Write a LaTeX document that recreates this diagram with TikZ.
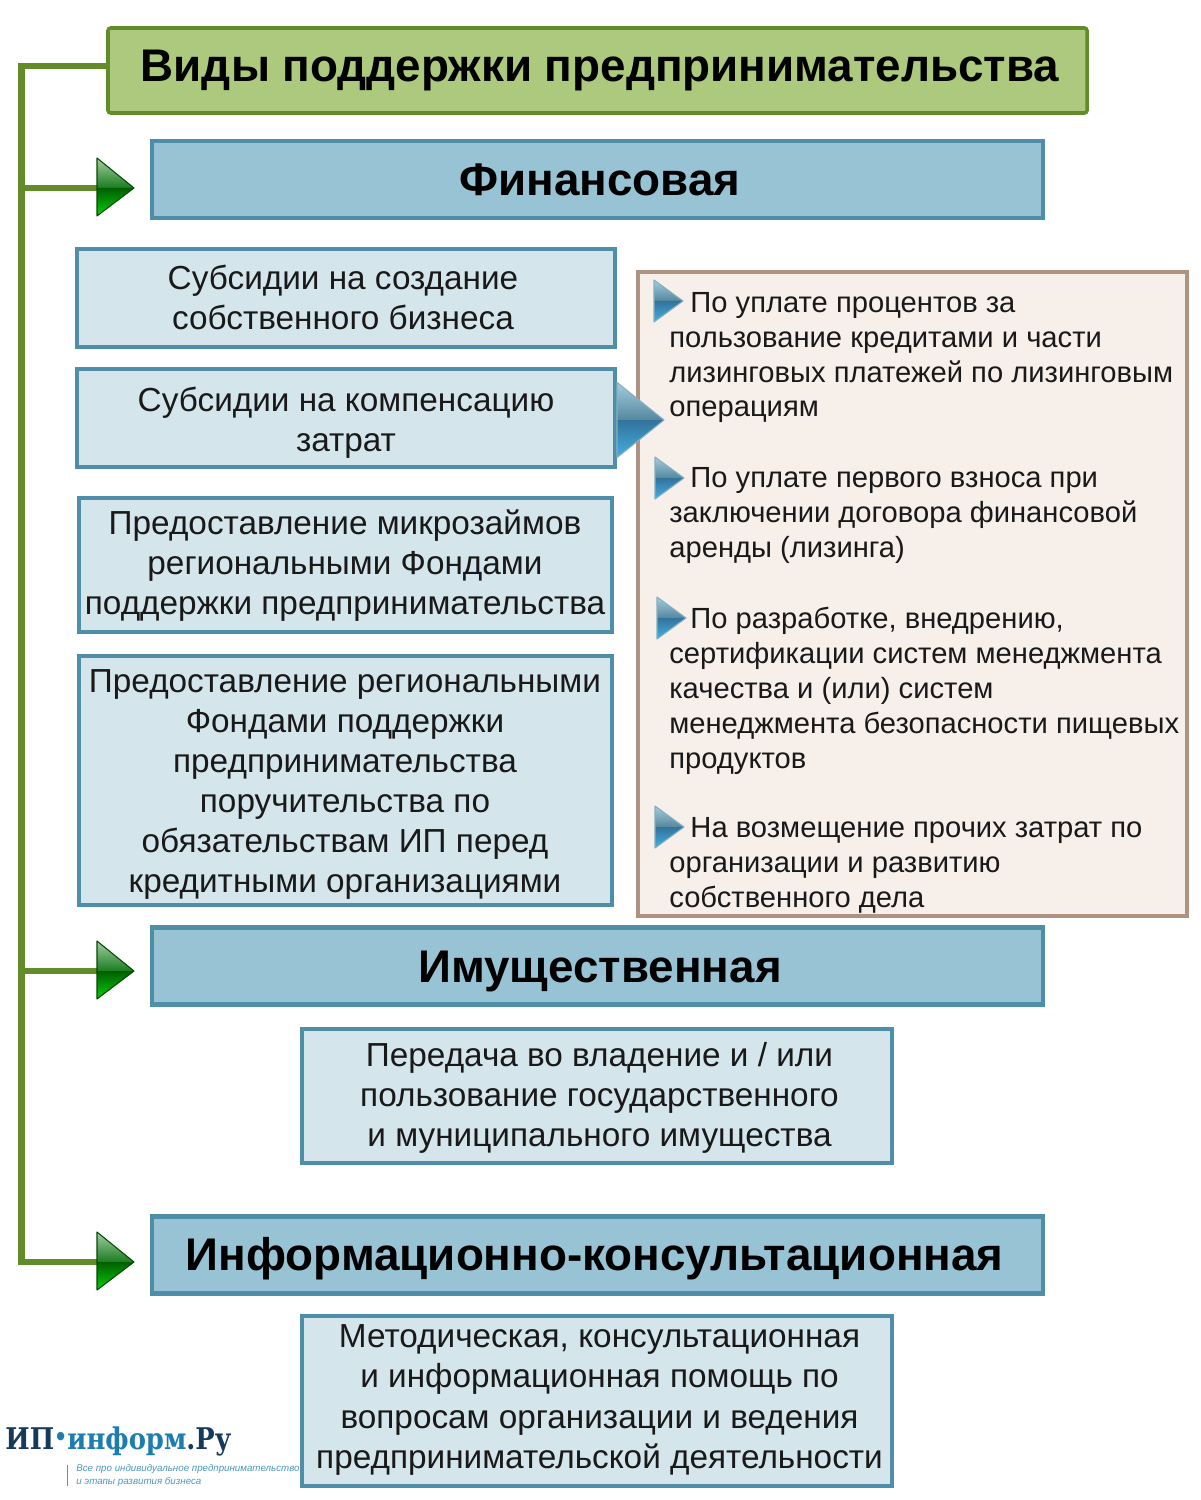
\documentclass[tikz,border=0pt]{standalone}
\usepackage{fontspec}
\setmainfont{Liberation Sans}
\newfontfamily\logofont{DejaVu Serif}
\usetikzlibrary{calc}
\definecolor{TrunkClr}{RGB}{98,140,42}
\definecolor{HeadClr}{RGB}{172,201,125}
\definecolor{KindClr}{RGB}{151,195,212}
\definecolor{KindEdge}{RGB}{78,142,168}
\definecolor{BoxClr}{RGB}{213,229,236}
\definecolor{SideClr}{RGB}{246,239,234}
\definecolor{SideEdge}{RGB}{176,146,130}
\definecolor{LogoDark}{RGB}{22,58,92}
\definecolor{LogoBlue}{RGB}{30,125,175}
\definecolor{TextClr}{RGB}{25,25,25}
\tikzset{
  x=0.02cm,y=-0.02cm,
  headbox/.style={draw=TrunkClr,fill=HeadClr,line width=2pt,rounded corners=1.5pt,inner sep=0pt},
  kindbox/.style={draw=KindEdge,fill=KindClr,line width=2.3pt,inner sep=0pt},
  textbox/.style={draw=KindEdge,fill=BoxClr,line width=2.3pt,inner sep=0pt},
  sidebox/.style={draw=SideEdge,fill=SideClr,line width=2.3pt,inner sep=0pt},
  bigtext/.style={inner sep=0pt,font=\fontsize{26.05}{31}\selectfont\bfseries},
  boxtext/.style={inner sep=0pt,align=center,text=TextClr,font=\fontsize{18.97}{22.8}\selectfont},
  sideitem/.style={anchor=north west,inner sep=0pt,align=left,text=TextClr,font=\fontsize{16.6}{19.84}\selectfont},
  trunk/.style={draw=TrunkClr,line width=3.6pt},
  greentip/.pic={
    \shade[top color={rgb,255:red,165;green,205;blue,165},bottom color={rgb,255:red,25;green,125;blue,30}] (0,-30) -- (37,0) -- (0,0) -- cycle;
    \shade[top color={rgb,255:red,0;green,95;blue,0},bottom color={rgb,255:red,10;green,205;blue,10}] (0,0) -- (37,0) -- (0,28) -- cycle;
    \draw[green!30!black,line width=.6pt,line join=round] (0,-30) -- (37,0) -- (0,28) -- cycle;
  },
  bluetip/.pic={
    \shade[top color={rgb,255:red,165;green,205;blue,220},bottom color={rgb,255:red,85;green,135;blue,160}] (0,-21) -- (29,0) -- (0,0) -- cycle;
    \shade[top color={rgb,255:red,50;green,115;blue,155},bottom color={rgb,255:red,70;green,175;blue,225}] (0,0) -- (29,0) -- (0,21) -- cycle;
    \draw[KindEdge!70!white,line width=.6pt,line join=round] (0,-21) -- (29,0) -- (0,21) -- cycle;
  },
}
\begin{document}
\begin{tikzpicture}
\useasboundingbox (0,0) rectangle (1200,1500);

% boxes
\node[headbox,minimum width=979*0.02cm,minimum height=85*0.02cm] (head) at (597.5,70.5) {};
\node[kindbox,minimum width=891*0.02cm,minimum height=77*0.02cm] (fin) at (597.5,179.5) {};
\node[kindbox,minimum width=891*0.02cm,minimum height=77*0.02cm] (prop) at (597.5,966) {};
\node[kindbox,minimum width=891*0.02cm,minimum height=77*0.02cm] (info) at (597.5,1255) {};

\node[textbox,minimum width=538*0.02cm,minimum height=98*0.02cm] (sub) at (346,298) {};
\node[textbox,minimum width=538*0.02cm,minimum height=98*0.02cm] (comp) at (346,418) {};
\node[textbox,minimum width=533*0.02cm,minimum height=134*0.02cm] (micro) at (345.5,565) {};
\node[textbox,minimum width=533*0.02cm,minimum height=249*0.02cm] (guar) at (345.5,780.5) {};
\node[textbox,minimum width=590*0.02cm,minimum height=134*0.02cm] (lease) at (597,1096) {};
\node[textbox,minimum width=590*0.02cm,minimum height=170*0.02cm] (help) at (597,1401) {};

% texts of the boxes
\node[bigtext] (headT) at (600,70.5) {Виды поддержки предпринимательства};
\node[bigtext] (finT) at (600,180) {Финансовая};
\node[bigtext] (propT) at (600,971) {Имущественная};
\node[bigtext] (infoT) at (594.5,1259) {Информационно-консультационная};
\node[boxtext] (subT) at (343,297.5) {Субсидии на создание\\собственного бизнеса};
\node[boxtext] (compT) at (346,423) {Субсидии на компенсацию\\затрат};
\node[boxtext] (microT) at (345,566) {Предоставление микрозаймов\\региональными Фондами\\поддержки предпринимательства};
\node[boxtext] (guarT) at (345,784.5) {Предоставление региональными\\Фондами поддержки\\предпринимательства\\поручительства по\\обязательствам ИП перед\\кредитными организациями};
\node[boxtext] (leaseT) at (599.5,1098) {Передача во владение и / или\\пользование государственного\\и муниципального имущества};
\node[boxtext] (helpT) at (599.5,1400) {Методическая, консультационная\\и информационная помощь по\\вопросам организации и ведения\\предпринимательской деятельности};

% side panel
\node[sidebox,minimum width=549*0.02cm,minimum height=644*0.02cm] (side) at (912.5,594) {};
\node[sideitem] (itemA) at (669,292) {\hspace*{12pt}По уплате процентов за\\пользование кредитами и части\\лизинговых платежей по лизинговым\\операциям};
\node[sideitem] (itemB) at (669,467) {\hspace*{12pt}По уплате первого взноса при\\заключении договора финансовой\\аренды (лизинга)};
\node[sideitem] (itemC) at (669,607) {\hspace*{12pt}По разработке, внедрению,\\сертификации систем менеджмента\\качества и (или) систем\\менеджмента безопасности пищевых\\продуктов};
\node[sideitem] (itemD) at (669,817) {\hspace*{12pt}На возмещение прочих затрат по\\организации и развитию\\собственного дела};

% blue tips
\pic at (654,301) {bluetip};
\pic at (655,478) {bluetip};
\pic at (657,618) {bluetip};
\pic at (655,827) {bluetip};
\pic[xscale=1.62,yscale=1.79] at (617,420) {bluetip};

% trunk
\coordinate (tipA) at (97,188);
\coordinate (tipB) at (97,971);
\coordinate (tipC) at (97,1262);
\draw[trunk] (head.west |- 0,66) -- (21.5,66) -- (21.5,1262) -- (tipC);
\draw[trunk] (21.5,188) -- (tipA);
\draw[trunk] (21.5,971) -- (tipB);
\pic at (tipA) {greentip};
\pic at (tipB) {greentip};
\pic at (tipC) {greentip};

% logo
\node[anchor=west,inner sep=0pt,font=\logofont\bfseries\fontsize{17}{20}\selectfont] (logo) at (5,1441) {\scalebox{.865}[1]{\textcolor{LogoDark}{ИП}\textcolor{LogoBlue}{\raisebox{.12em}{\scalebox{.8}{•}}информ}\textcolor{LogoDark}{.Ру}}};
\draw[LogoBlue!80,line width=.5pt] (67,1465) -- (67,1486);
\node[anchor=west,inner sep=0pt,text=LogoBlue!80,align=left,font=\itshape\fontsize{5.55}{7.4}\selectfont] (slogan) at (76,1475) {Все про индивидуальное предпринимательство\\и этапы развития бизнеса};
\end{tikzpicture}
\end{document}
